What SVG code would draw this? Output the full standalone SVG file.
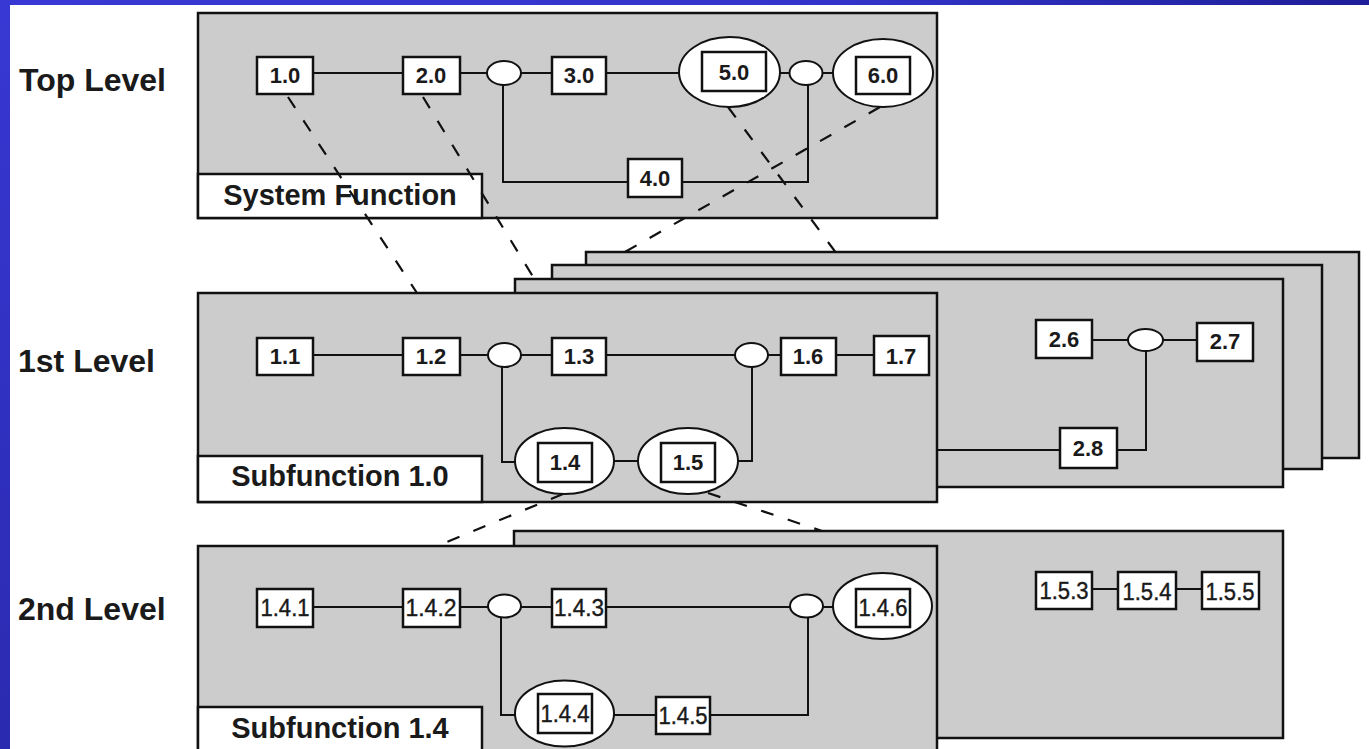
<svg xmlns="http://www.w3.org/2000/svg" width="1369" height="749" viewBox="0 0 1369 749">
<defs>
<linearGradient id="gTop" x1="0" y1="0" x2="1" y2="0"><stop offset="0" stop-color="#3838d4"/><stop offset="0.6" stop-color="#3434cc"/><stop offset="1" stop-color="#1e1e98"/></linearGradient>
<linearGradient id="gLeft" x1="0" y1="0" x2="0" y2="1"><stop offset="0" stop-color="#3838d4"/><stop offset="1" stop-color="#2a2ab0"/></linearGradient>
</defs>
<style>
.frame{fill:#cccccc;stroke:#111;stroke-width:2.5}
.lbl{fill:#fff;stroke:#111;stroke-width:2.5}
.box{fill:#fff;stroke:#111;stroke-width:2.5}
.ell{fill:#fff;stroke:#111;stroke-width:2}
.ln{fill:none;stroke:#111;stroke-width:2}
.dash{fill:none;stroke:#111;stroke-width:2.2;stroke-dasharray:13 15}
.lvl{font-family:"Liberation Sans",Arial,sans-serif;font-weight:bold;font-size:32px;fill:#1a1a1a}
.cap{font-family:"Liberation Sans",Arial,sans-serif;font-weight:bold;font-size:29px;fill:#1a1a1a;text-anchor:middle}
.t{font-family:"Liberation Sans",Arial,sans-serif;font-weight:bold;font-size:22px;fill:#1a1a1a;text-anchor:middle}
.t2{font-family:"Liberation Sans",Arial,sans-serif;font-size:23px;fill:#1a1a1a;text-anchor:middle;stroke:#1a1a1a;stroke-width:0.4}
</style>
<rect x="0" y="0" width="1369" height="749" fill="#fff"/>
<rect x="0" y="0" width="1369" height="5" fill="url(#gTop)"/>
<rect x="0" y="0" width="10" height="749" fill="url(#gLeft)"/>

<g id="level-titles">
<text class="lvl" x="19" y="91">Top Level</text>
<text class="lvl" x="18" y="372">1st Level</text>
<text class="lvl" x="18" y="620">2nd Level</text>
</g>

<g id="top-frame">
<rect class="frame" x="198" y="13" width="739" height="205"/>
<rect class="lbl" x="198" y="174" width="284" height="44"/>
<text class="cap" x="340" y="205">System Function</text>
</g>

<g id="sub-back-3"><rect class="frame" x="586" y="252" width="773" height="206"/></g>
<g id="sub-back-2"><rect class="frame" x="552" y="265" width="770" height="204"/></g>
<g id="sub-back-1"><rect class="frame" x="515" y="279" width="768" height="208"/></g>

<g id="sub-front">
<rect class="frame" x="198" y="293" width="739" height="209"/>
<rect class="lbl" x="198" y="456" width="284" height="46"/>
<text class="cap" x="340" y="486">Subfunction 1.0</text>
</g>

<g id="sub2-back"><rect class="frame" x="514" y="531" width="769" height="207"/></g>
<g id="sub2-front">
<rect class="frame" x="198" y="546" width="739" height="210"/>
<rect class="lbl" x="198" y="707" width="284" height="50"/>
<text class="cap" x="340" y="738">Subfunction 1.4</text>
</g>

<g id="connectors">
<path class="ln" d="M313 73 H403 M460 73 H487 M521 73 H552 M606 73 H679 M780 73 H790 M823 73 H833"/>
<path class="ln" d="M503 85 V182 H628 M682 182 H808 V85"/>
<path class="ln" d="M313 355 H403 M460 355 H488 M521 355 H552 M606 355 H735 M768 355 H781 M836 355 H874"/>
<path class="ln" d="M502 367 V462 H515 M614 461 H638 M738 461 H752 V367"/>
<path class="ln" d="M937 450 H1060 M1117 450 H1146 V351 M1092 340 H1128 M1163 340 H1197"/>
<path class="ln" d="M313 607 H403 M460 607 H488 M521 607 H552 M606 607 H790 M823 607 H833"/>
<path class="ln" d="M501 618 V715 H515 M614 715 H656 M710 715 H808 V618"/>
<path class="ln" d="M1092 589 H1118 M1176 589 H1202"/>
<path class="dash" d="M288 97 L417 293"/>
<path class="dash" d="M423 97 L535 280"/>
<path class="dash" d="M728 107 L845 265"/>
<path class="dash" d="M880 107 L625 252"/>
<path class="dash" d="M563 494 L437 546"/>
<path class="dash" d="M708 493 L822 531"/>
</g>

<g id="n1.0"><rect class="box" x="257" y="57" width="56" height="37"/><text class="t" x="285" y="83">1.0</text></g>
<g id="n2.0"><rect class="box" x="403" y="57" width="57" height="37"/><text class="t" x="431" y="83">2.0</text></g>
<g id="j0a"><ellipse class="ell" cx="504" cy="73" rx="17" ry="12"/></g>
<g id="n3.0"><rect class="box" x="552" y="57" width="54" height="37"/><text class="t" x="579" y="83">3.0</text></g>
<g id="n5.0"><ellipse class="ell" cx="729.5" cy="72" rx="50.5" ry="35"/><rect class="box" x="702" y="52" width="64" height="39"/><text class="t" x="734" y="80">5.0</text></g>
<g id="j0b"><ellipse class="ell" cx="806" cy="73" rx="16.5" ry="12"/></g>
<g id="n6.0"><ellipse class="ell" cx="883" cy="73" rx="50" ry="34"/><rect class="box" x="856" y="57" width="54" height="37"/><text class="t" x="883" y="83">6.0</text></g>
<g id="n4.0"><rect class="box" x="628" y="159" width="54" height="38"/><text class="t" x="655" y="186">4.0</text></g>

<g id="n1.1"><rect class="box" x="257" y="338" width="56" height="37"/><text class="t" x="285" y="364">1.1</text></g>
<g id="n1.2"><rect class="box" x="403" y="338" width="57" height="37"/><text class="t" x="431" y="364">1.2</text></g>
<g id="j1a"><ellipse class="ell" cx="504.5" cy="355" rx="16.5" ry="12"/></g>
<g id="n1.3"><rect class="box" x="552" y="338" width="54" height="37"/><text class="t" x="579" y="364">1.3</text></g>
<g id="j1b"><ellipse class="ell" cx="751.5" cy="355" rx="16.5" ry="12"/></g>
<g id="n1.6"><rect class="box" x="781" y="338" width="55" height="37"/><text class="t" x="808" y="364">1.6</text></g>
<g id="n1.7"><rect class="box" x="874" y="336" width="55" height="39"/><text class="t" x="901" y="364">1.7</text></g>
<g id="n1.4"><ellipse class="ell" cx="564.5" cy="461" rx="49.5" ry="33"/><rect class="box" x="538" y="443" width="54" height="39"/><text class="t" x="565" y="470">1.4</text></g>
<g id="n1.5"><ellipse class="ell" cx="688" cy="461" rx="50" ry="33"/><rect class="box" x="661" y="443" width="54" height="39"/><text class="t" x="688" y="470">1.5</text></g>
<g id="n2.6"><rect class="box" x="1036" y="320" width="56" height="38"/><text class="t" x="1064" y="347">2.6</text></g>
<g id="j1c"><ellipse class="ell" cx="1145.5" cy="340" rx="17.5" ry="11"/></g>
<g id="n2.7"><rect class="box" x="1197" y="323" width="56" height="38"/><text class="t" x="1225" y="349">2.7</text></g>
<g id="n2.8"><rect class="box" x="1060" y="428" width="57" height="40"/><text class="t" x="1088" y="456">2.8</text></g>

<g id="n1.4.1"><rect class="box" x="257" y="589" width="56" height="38"/><text class="t2" x="285" y="616" textLength="49" lengthAdjust="spacingAndGlyphs">1.4.1</text></g>
<g id="n1.4.2"><rect class="box" x="403" y="589" width="57" height="38"/><text class="t2" x="431" y="616" textLength="51" lengthAdjust="spacingAndGlyphs">1.4.2</text></g>
<g id="j2a"><ellipse class="ell" cx="504.5" cy="606" rx="16.5" ry="11.5"/></g>
<g id="n1.4.3"><rect class="box" x="552" y="589" width="54" height="38"/><text class="t2" x="579" y="616" textLength="50" lengthAdjust="spacingAndGlyphs">1.4.3</text></g>
<g id="j2b"><ellipse class="ell" cx="806.5" cy="606" rx="16.5" ry="11.5"/></g>
<g id="n1.4.6"><ellipse class="ell" cx="882.5" cy="606" rx="49.5" ry="33"/><rect class="box" x="856" y="589" width="54" height="38"/><text class="t2" x="883" y="616" textLength="49" lengthAdjust="spacingAndGlyphs">1.4.6</text></g>
<g id="n1.4.4"><ellipse class="ell" cx="564.5" cy="713.5" rx="49.5" ry="33"/><rect class="box" x="538" y="694" width="54" height="39"/><text class="t2" x="565" y="722" textLength="49" lengthAdjust="spacingAndGlyphs">1.4.4</text></g>
<g id="n1.4.5"><rect class="box" x="656" y="697" width="54" height="37"/><text class="t2" x="683" y="724" textLength="49" lengthAdjust="spacingAndGlyphs">1.4.5</text></g>
<g id="n1.5.3"><rect class="box" x="1036" y="572" width="56" height="37"/><text class="t2" x="1064" y="599" textLength="49" lengthAdjust="spacingAndGlyphs">1.5.3</text></g>
<g id="n1.5.4"><rect class="box" x="1118" y="572" width="58" height="37"/><text class="t2" x="1147" y="600" textLength="49" lengthAdjust="spacingAndGlyphs">1.5.4</text></g>
<g id="n1.5.5"><rect class="box" x="1202" y="572" width="57" height="37"/><text class="t2" x="1230" y="600" textLength="49" lengthAdjust="spacingAndGlyphs">1.5.5</text></g>
</svg>
